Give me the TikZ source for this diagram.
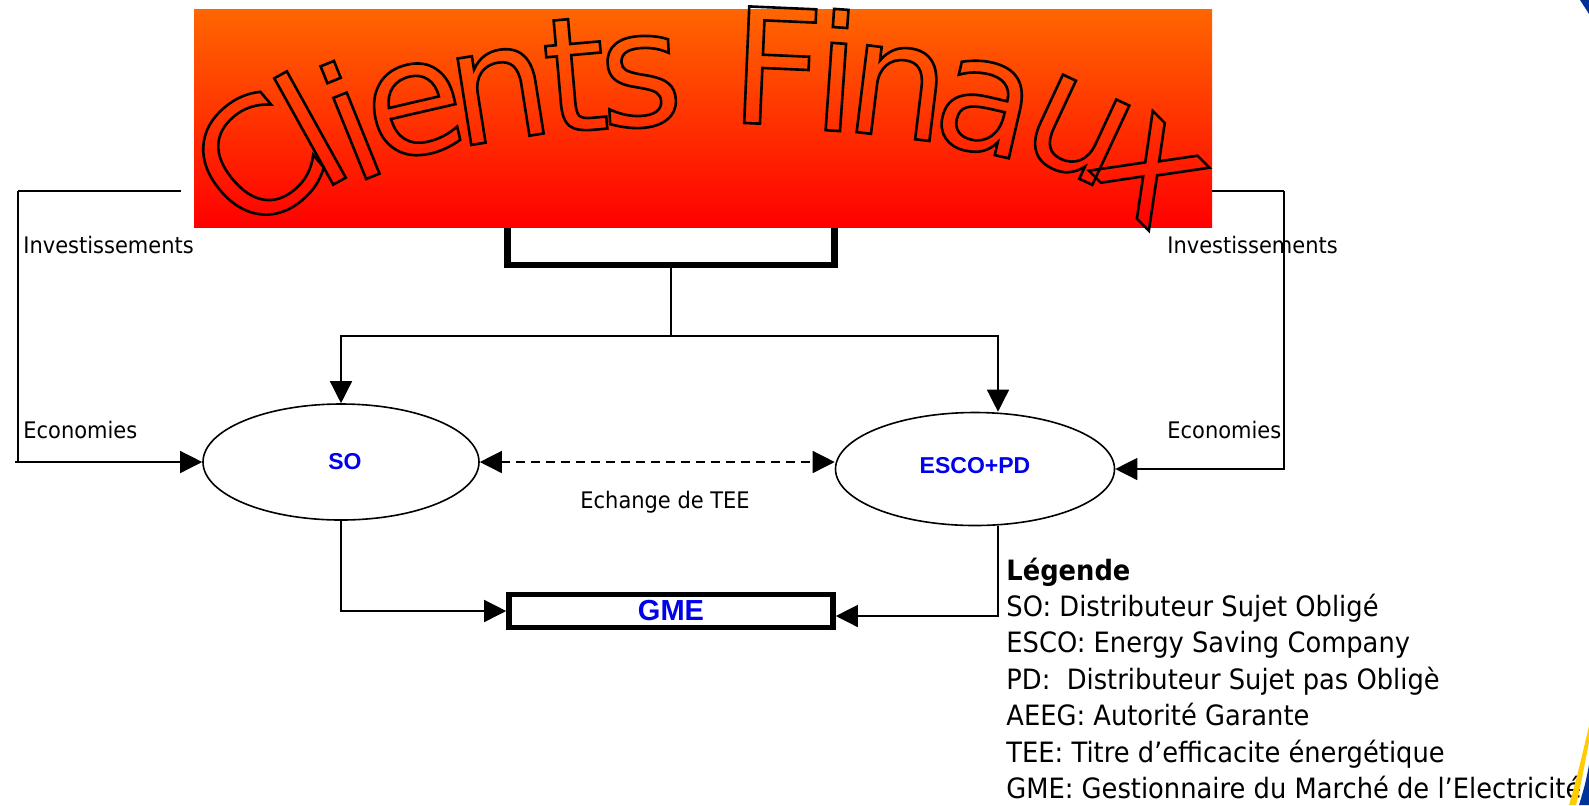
\documentclass[tikz,border=0pt]{standalone}
\usepackage{fontspec}
\setmainfont{DejaVu Sans}[FakeStretch=0.92]
\newfontfamily\wordart{DejaVu Sans}
\newfontfamily\arialbold{Liberation Sans Bold}
\usetikzlibrary{arrows.meta,shapes.geometric}

\definecolor{orangetop}{RGB}{255,102,0}
\definecolor{redbottom}{RGB}{255,0,0}
\definecolor{actorblue}{RGB}{0,0,235}
\definecolor{swoosh}{RGB}{255,204,0}
\definecolor{cornerblue}{RGB}{0,51,153}

% outlined letters (stroke only)
\newcommand\hollow[1]{\special{pdf:literal direct 1 Tr 1.3 w}#1\special{pdf:literal direct 0 Tr}}

\begin{document}
\begin{tikzpicture}[x=0.5pt,y=-0.5pt,
    wire/.style={line width=0.7pt},
    bar/.style={line width=1.1pt},
    tip/.style={-{Triangle[length=11pt,width=11pt]}},
    actor/.style={ellipse,draw,line width=0.8pt,inner sep=0pt,
      font=\arialbold\fontsize{11.5}{13}\selectfont,text=actorblue},
    lbl/.style={font=\fontsize{11.4}{13}\selectfont,inner sep=0pt,anchor=base west},
    legend/.style={font=\fontsize{14}{17}\selectfont,inner sep=0pt,anchor=base west},
    letter/.style={font=\wordart\fontsize{80}{81}\selectfont,inner sep=0pt}]
    \useasboundingbox (0,0) rectangle (1589,805);

    % box hidden under the title
    \node[draw,line width=3.2pt,minimum width=163.5pt,minimum height=34pt,inner sep=0pt] (hub) at (671,231) {};

    % title banner
    \node[top color=orangetop,bottom color=redbottom,minimum width=509pt,minimum height=109pt,inner sep=0pt] (cli) at (703,118) {};
    \foreach \ch/\cx/\cy/\rot [count=\n] in {C/256/160/40, l/310/128/29, i/350/120/22, e/415/110/13,
        n/500/95/9, t/575/75/5, s/641/82/3, F/777/66/-2.5, i/837/70/-4, n/898/92/-7,
        a/985/108/-13, u/1078/130/-25, x/1150/170/-45}
        \node[letter,rotate=\rot] (w\n) at (\cx,\cy) {\hollow{\ch}};

    % actors
    \node[actor,minimum width=138pt,minimum height=58pt] (SO) at (341,462) {\hspace*{4pt}SO};
    \node[actor,minimum width=139.5pt,minimum height=56.5pt] (ESCO) at (975,469) {\raisebox{4pt}{ESCO+PD}};
    \node[draw,line width=2.8pt,minimum width=162pt,minimum height=16.5pt,inner sep=0pt,
      font=\arialbold\fontsize{14.5}{16}\selectfont,text=actorblue] (GME) at (671,611) {GME};

    % split from the hub
    \coordinate (split) at (671,336);
    \coordinate (edrop) at (998,336);
    \draw[wire] (hub.south) -- (split);
    \draw[wire,tip] (split) -| (SO.north);
    \draw[wire,tip] (split) -- (edrop) -- (edrop |- ESCO.north);

    % left loop
    \coordinate (ltop) at (181,191);
    \coordinate (lbend) at (18,191);
    \draw[bar] (ltop) -- (lbend);
    \draw[wire] (lbend) -- (lbend |- SO.west);
    \draw[wire,tip] ([xshift=-1.5pt]lbend |- SO.west) -- (SO.west);

    % right loop
    \coordinate (rtop) at (1212,191);
    \coordinate (rbend) at (1284,191);
    \draw[bar] (rtop) -- (rbend);
    \draw[wire,tip] (rbend) -- (rbend |- ESCO.east) -- (ESCO.east);

    % exchange
    \draw[wire,dash pattern=on 4.5pt off 3pt,{Triangle[length=11pt,width=11pt]}-{Triangle[length=11pt,width=11pt]}]
      (SO.east) -- (SO.east -| ESCO.west);

    % to GME
    \coordinate (edown) at (998,616);
    \draw[wire,tip] (SO.south) |- (GME.west);
    \draw[wire,tip] (edown |- ESCO.south) -- (edown) -- (edown -| GME.east);

    % labels
    \node[lbl] (inv1) at (23,253) {Investissements};
    \node[lbl] (eco1) at (23,438) {Economies};
    \node[lbl] (inv2) at (1167,253) {Investissements};
    \node[lbl] (eco2) at (1167,438) {Economies};
    \node[lbl] (tee) at (580,508) {Echange de TEE};

    % legend
    \foreach \txt [count=\k from 0] in {\textbf{Légende}, SO: Distributeur Sujet Obligé,
        ESCO: Energy Saving Company, PD:\ \ Distributeur Sujet pas Obligè,
        AEEG: Autorité Garante, TEE: Titre d’efficacite énergétique,
        GME: Gestionnaire du Marché de l’Electricité}
        \node[legend] (leg\k) at (1006,580+36.4*\k) {\txt};

    % corner swoosh
    \fill[swoosh] (1589,726) .. controls (1581,760) and (1575,785) .. (1569,805) -- (1576,805) .. controls (1581,785) and (1585,762) .. (1589,742) -- cycle;
    \fill[cornerblue] (1589,765) .. controls (1585,785) .. (1579,805) -- (1589,805) -- cycle;
    \fill[cornerblue] (1580,0) -- (1589,0) -- (1589,14) -- cycle;
\end{tikzpicture}
\end{document}
